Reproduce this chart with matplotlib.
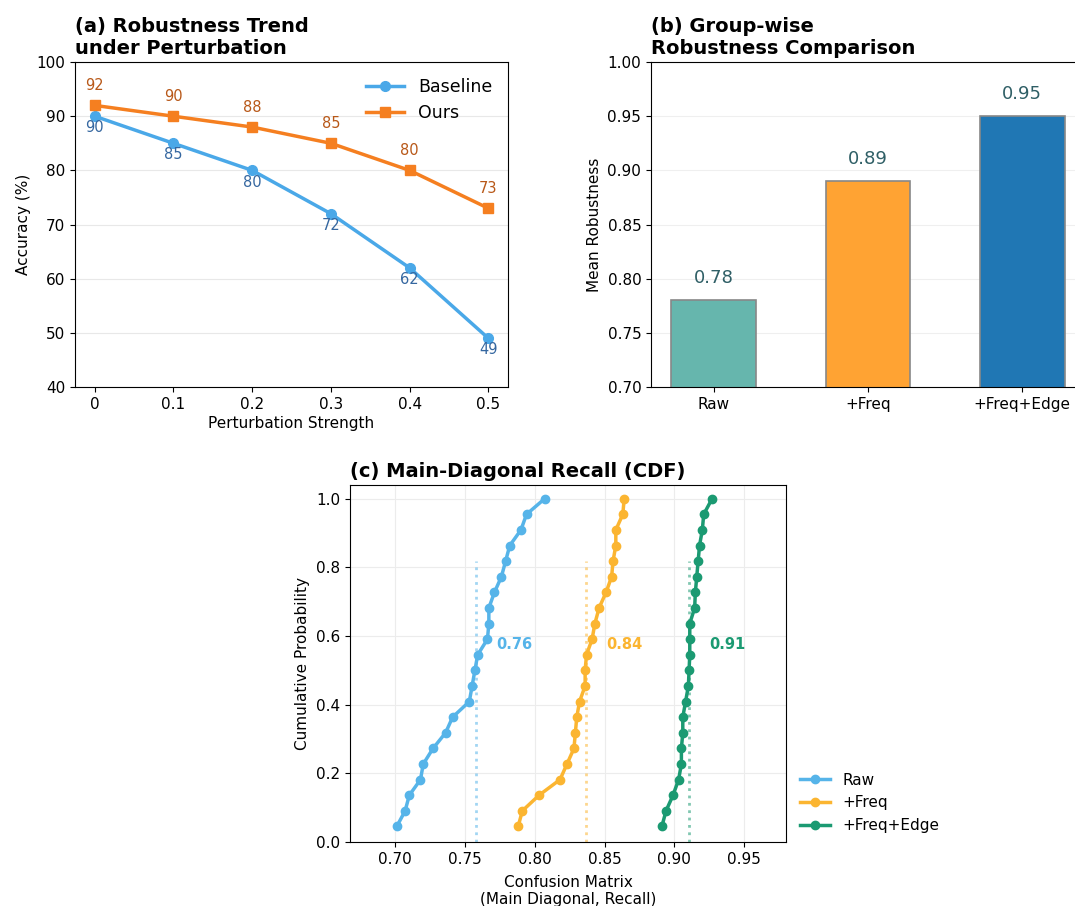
import numpy as np
import matplotlib
matplotlib.use("Agg")
import matplotlib.pyplot as plt

# (a) robustness trend
strength = [0, 0.1, 0.2, 0.3, 0.4, 0.5]
strength_labels = ["0", "0.1", "0.2", "0.3", "0.4", "0.5"]
baseline_acc = [90, 85, 80, 72, 62, 49]
ours_acc = [92, 90, 88, 85, 80, 73]

# (b) group-wise robustness
groups = ["Raw", "+Freq", "+Freq+Edge"]
mean_robustness = [0.78, 0.89, 0.95]

# (c) main-diagonal recall per class (sorted)
recall_raw = [0.701, 0.707, 0.710, 0.718, 0.720, 0.727, 0.736, 0.741, 0.753, 0.755, 0.757,
              0.759, 0.766, 0.767, 0.767, 0.771, 0.776, 0.779, 0.782, 0.790, 0.794, 0.807]
recall_freq = [0.788, 0.791, 0.803, 0.818, 0.823, 0.828, 0.829, 0.830, 0.832, 0.836, 0.836,
               0.837, 0.841, 0.843, 0.846, 0.851, 0.855, 0.856, 0.858, 0.858, 0.863, 0.864]
recall_edge = [0.891, 0.894, 0.899, 0.903, 0.905, 0.905, 0.906, 0.906, 0.908, 0.910, 0.9105,
               0.911, 0.911, 0.911, 0.9145, 0.915, 0.916, 0.917, 0.918, 0.920, 0.921, 0.927]

c_base = "#4aa8e8"
c_ours = "#f57f20"
bar_colors = ["#66b6ad", "#ffa333", "#2077b4"]
cdf_colors = ["#56b4e9", "#fbb531", "#1b9a72"]

plt.rcParams["font.family"] = "DejaVu Sans"
fig = plt.figure(figsize=(10.75, 9.06), dpi=100)

# ---------- (a)
ax1 = fig.add_axes([0.0698, 0.5728, 0.4028, 0.3587])
ax1.plot(strength, baseline_acc, "-o", color=c_base, lw=2.5, ms=7, label="Baseline")
ax1.plot(strength, ours_acc, "-s", color=c_ours, lw=2.5, ms=7, label="Ours")
for x, y in zip(strength, baseline_acc):
    ax1.annotate(f"{y}", (x, y), xytext=(0, -3), textcoords="offset points",
                 ha="center", va="top", fontsize=10.5, color="#3567a0")
for x, y in zip(strength, ours_acc):
    ax1.annotate(f"{y}", (x, y), xytext=(0, 9), textcoords="offset points",
                 ha="center", va="bottom", fontsize=10.5, color="#b85818")
ax1.set_ylim(40, 100)
ax1.set_xticks(strength)
ax1.set_xticklabels(strength_labels)
ax1.tick_params(labelsize=11)
ax1.set_xlabel("Perturbation Strength", fontsize=11, labelpad=3)
ax1.set_ylabel("Accuracy (%)", fontsize=11)
ax1.grid(axis="y", color="#e8e8e8", lw=0.8)
ax1.set_axisbelow(True)
ax1.legend(frameon=False, fontsize=12.5, loc="upper right", handlelength=2.2)
ax1.set_title("(a) Robustness Trend\nunder Perturbation", loc="left",
              fontweight="bold", fontsize=14, pad=6)

# ---------- (b)
ax2 = fig.add_axes([0.6056, 0.5728, 0.4037, 0.3587])
xpos = np.arange(len(groups))
ax2.bar(xpos, mean_robustness, width=0.55, color=bar_colors, edgecolor="#888888", lw=1.2)
for x, v in zip(xpos, mean_robustness):
    ax2.text(x, v + 0.012, f"{v:.2f}", ha="center", va="bottom", fontsize=13, color="#2f5f66")
ax2.set_ylim(0.70, 1.00)
ax2.set_xlim(-0.406, 2.406)
ax2.set_xticks(xpos)
ax2.set_xticklabels(groups)
ax2.set_yticks(np.arange(0.70, 1.001, 0.05))
ax2.yaxis.set_major_formatter(matplotlib.ticker.FormatStrFormatter("%.2f"))
ax2.tick_params(labelsize=11)
ax2.set_ylabel("Mean Robustness", fontsize=11)
ax2.grid(axis="y", color="#efefef", lw=0.8)
ax2.set_axisbelow(True)
ax2.set_title("(b) Group-wise\nRobustness Comparison", loc="left",
              fontweight="bold", fontsize=14, pad=6)

# ---------- (c)
ax3 = fig.add_axes([0.3256, 0.0706, 0.4056, 0.3941])
for name, vals, col in zip(groups, [recall_raw, recall_freq, recall_edge], cdf_colors):
    v = np.sort(vals)
    cdf = np.arange(1, len(v) + 1) / len(v)
    ax3.plot(v, cdf, "-o", color=col, lw=2.5, ms=6, label=name)
    med = np.median(v)
    ax3.vlines(med, 0, 0.82, colors=col, linestyles=":", lw=2, alpha=0.55)
    ax3.text(med + 0.0145, 0.575, f"{med:.2f}", color=col, fontsize=10.5,
             fontweight="bold", va="center", ha="left")
ax3.set_xlim(0.6675, 0.98)
ax3.set_ylim(0, 1.04)
ax3.set_xticks([0.70, 0.75, 0.80, 0.85, 0.90, 0.95])
ax3.xaxis.set_major_formatter(matplotlib.ticker.FormatStrFormatter("%.2f"))
ax3.tick_params(labelsize=11)
ax3.grid(color="#ececec", lw=0.8)
ax3.set_axisbelow(True)
ax3.set_xlabel("Confusion Matrix\n(Main Diagonal, Recall)", fontsize=11, labelpad=6)
ax3.set_ylabel("Cumulative Probability", fontsize=11)
ax3.legend(frameon=False, fontsize=11, loc="center left", bbox_to_anchor=(1.0, 0.11),
           handlelength=2.0)
ax3.set_title("(c) Main-Diagonal Recall (CDF)", loc="left", fontweight="bold",
              fontsize=14, pad=6)

fig.savefig("out.png", dpi=100)
